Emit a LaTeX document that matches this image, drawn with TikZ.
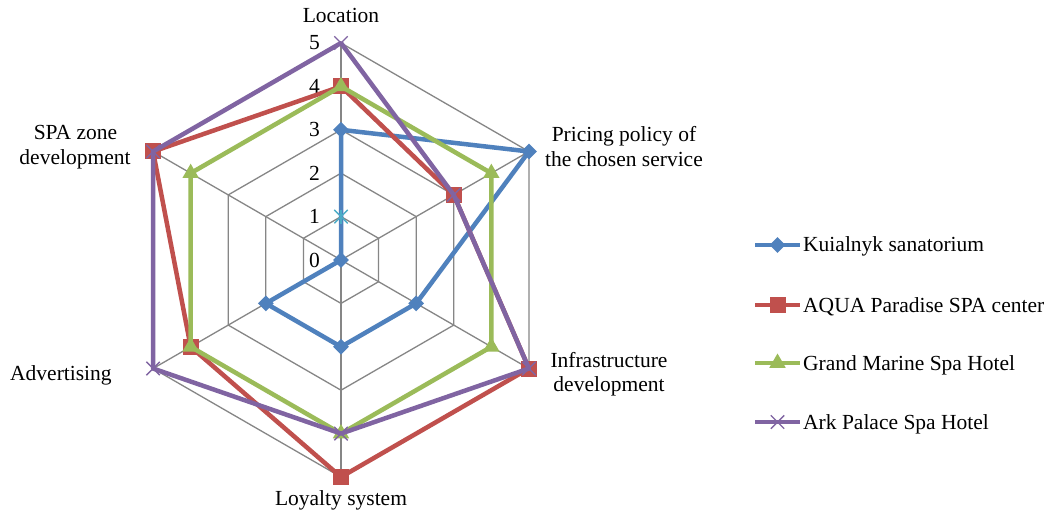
\documentclass[tikz,border=0pt]{standalone}
\usepackage{fontspec}
\setmainfont{Liberation Serif}
\usetikzlibrary{shapes.geometric,shapes.misc}
\definecolor{sBlue}{HTML}{4F81BD}
\definecolor{sRed}{HTML}{C0504D}
\definecolor{sGreen}{HTML}{9BBB59}
\definecolor{sPurple}{HTML}{8064A2}
\definecolor{sCyan}{HTML}{4BACC6}
\definecolor{gridgray}{HTML}{868686}
\newcommand\radarpts[7]{%
  \coordinate (#1-1) at (90:{43.4*#2});
  \coordinate (#1-2) at (30:{43.4*#3});
  \coordinate (#1-3) at (-30:{43.4*#4});
  \coordinate (#1-4) at (-90:{43.4*#5});
  \coordinate (#1-5) at (210:{43.4*#6});
  \coordinate (#1-6) at (150:{43.4*#7});
}
\begin{document}
\begin{tikzpicture}[x=1pt,y=1pt,
  lbl/.style={font=\fontsize{21.5}{25}\selectfont, inner sep=0pt, text=black},
  gridline/.style={draw=gridgray, line width=1.3pt},
  series/.style={line width=4.5pt, line join=round},
  dmark/.style={diamond, fill=sBlue, inner sep=0pt, minimum width=16pt, minimum height=16pt},
  smark/.style={rectangle, fill=sRed, inner sep=0pt, minimum size=16pt},
  tmark/.style={regular polygon, regular polygon sides=3, fill=sGreen, inner sep=0pt, minimum size=19pt},
  xmark/.style={cross out, draw=sPurple, line width=1.4pt, inner sep=0pt, minimum size=12pt},
  cmark/.style={cross out, draw=sCyan, line width=1.4pt, inner sep=0pt, minimum size=12pt}
]
\fill[white] (0,0) rectangle (1049,512);
\useasboundingbox (0,0) rectangle (1049,512);

\begin{scope}[shift={(341,252)}]
  % grid
  \foreach \v in {1,...,5}
    \draw[gridline] (90:{43.4*\v}) -- (30:{43.4*\v}) -- (-30:{43.4*\v}) -- (-90:{43.4*\v}) -- (210:{43.4*\v}) -- (150:{43.4*\v}) -- cycle;
  \foreach \a in {90,30,-30,-90,210,150}
    \draw[gridline] (0,0) -- (\a:217);
  % tick labels
  \foreach \v in {0,...,5}
    \node[lbl, anchor=east] (tick\v) at ({-21},{43.4*\v}) {\v};
  % data points
  \radarpts{k}{3}{5}{2}{2}{2}{0}
  \radarpts{q}{4}{3}{5}{5}{4}{5}
  \radarpts{g}{4}{4}{4}{4}{4}{4}
  \radarpts{a}{5}{3}{5}{4}{5}{5}
  \coordinate (c1) at (90:43.4);
  % Kuialnyk
  \draw[series, sBlue] (k-1) -- (k-2) -- (k-3) -- (k-4) -- (k-5) -- (k-6) -- cycle;
  \foreach \i in {1,...,6} \node[dmark] (km\i) at (k-\i) {};
  % cyan marker
  \node[cmark] (cm) at (c1) {};
  \draw[sCyan, line width=1.4pt] ([yshift=7pt]cm.center) -- ([yshift=-7pt]cm.center);
  % AQUA
  \draw[series, sRed] (q-1) -- (q-2) -- (q-3) -- (q-4) -- (q-5) -- (q-6) -- cycle;
  \foreach \i in {1,...,6} \node[smark] (qm\i) at (q-\i) {};
  % Grand Marine
  \draw[series, sGreen] (g-1) -- (g-2) -- (g-3) -- (g-4) -- (g-5) -- (g-6) -- cycle;
  \foreach \i in {1,...,6} \node[tmark] (gm\i) at (g-\i) {};
  % Ark Palace
  \draw[series, sPurple] (a-1) -- (a-2) -- (a-3) -- (a-4) -- (a-5) -- (a-6) -- cycle;
  \foreach \i in {1,...,6} \node[xmark] (am\i) at (a-\i) {};
\end{scope}

% axis labels
\node[lbl, anchor=base] (loc) at (341,489) {Location};
\node[lbl, anchor=base] (pr1) at (624,370) {Pricing policy of};
\node[lbl, anchor=base] (pr2) at (624,345) {the chosen service};
\node[lbl, anchor=base] (in1) at (609,145) {Infrastructure};
\node[lbl, anchor=base] (in2) at (609,121) {development};
\node[lbl, anchor=base] (loy) at (341,7) {Loyalty system};
\node[lbl, anchor=base west] (adv) at (10,132) {Advertising};
\node[lbl, anchor=base] (spa1) at (75.5,372) {SPA zone};
\node[lbl, anchor=base] (spa2) at (75,347) {development};

% legend
\coordinate (lk1) at (755,267); \coordinate (lk2) at (800,267);
\draw[series, sBlue] (lk1) -- (lk2);
\node[dmark] (lkm) at (777.5,267) {};
\node[lbl, anchor=base west] (lkt) at (803,260) {Kuialnyk sanatorium};

\coordinate (lq1) at (755,207); \coordinate (lq2) at (800,207);
\draw[series, sRed] (lq1) -- (lq2);
\node[smark] (lqm) at (777.5,207) {};
\node[lbl, anchor=base west] (lqt) at (803,200) {AQUA Paradise SPA center};

\coordinate (lg1) at (755,149); \coordinate (lg2) at (800,149);
\draw[series, sGreen] (lg1) -- (lg2);
\node[tmark] (lgm) at (777.5,149) {};
\node[lbl, anchor=base west] (lgt) at (803,142) {Grand Marine Spa Hotel};

\coordinate (la1) at (755,90); \coordinate (la2) at (800,90);
\draw[series, sPurple] (la1) -- (la2);
\node[xmark] (lam) at (777.5,90) {};
\node[lbl, anchor=base west] (lat) at (803,83) {Ark Palace Spa Hotel};
\end{tikzpicture}
\end{document}
